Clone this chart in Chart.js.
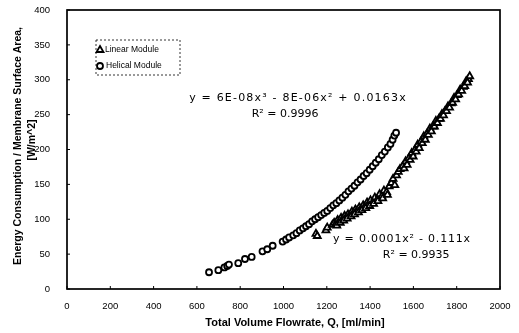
<!DOCTYPE html>
<html>
<head>
<meta charset="utf-8">
<script src="https://cdn.jsdelivr.net/npm/chart.js@4.4.1/dist/chart.umd.min.js"></script>
<style>
  html, body { margin: 0; padding: 0; background: #fff; }
  #wrap { width: 519px; height: 333px; }
</style>
</head>
<body>
<div id="wrap"><canvas id="flowChart" width="519" height="333"></canvas></div>
<script>
// linear module: total flowrate [ml/min] vs energy per membrane area [W/m^2]
const linearFlow = [1150, 1156, 1196, 1202, 1226, 1234, 1242, 1250, 1258, 1266, 1274, 1282, 1290, 1298,
  1308, 1316, 1324, 1332, 1340, 1350, 1358, 1368, 1376, 1386, 1394, 1402, 1412, 1422, 1432, 1444, 1454,
  1464, 1476, 1488, 1498, 1506, 1514, 1522, 1530, 1538, 1550, 1564, 1578, 1592, 1606, 1620, 1634, 1648,
  1662, 1676, 1690, 1704, 1718, 1732, 1746, 1760, 1774, 1788, 1802, 1816, 1830, 1844, 1854, 1860,
  1246, 1262, 1278, 1294, 1312, 1328, 1346, 1362, 1380, 1398, 1416, 1436, 1458, 1480,
  1557, 1571, 1585, 1599, 1613, 1627, 1641, 1655, 1669, 1683, 1697, 1711, 1725, 1739, 1753, 1767,
  1781, 1795, 1809, 1823, 1837, 1850]
const linearEnergy = [79, 76, 84, 88, 92, 95, 93, 99, 97, 102, 100, 105, 103, 107,
  106, 111, 109, 114, 112, 117, 115, 120, 118, 124, 121, 127, 124, 131, 128, 136, 133,
  141, 139, 147, 152, 158, 149, 163, 168, 172, 176, 183, 187, 195, 199, 207, 211, 219,
  222, 230, 233, 241, 244, 251, 255, 262, 266, 274, 278, 286, 290, 298, 301, 305,
  91, 95, 98, 101, 104, 107, 110, 113, 116, 119, 122, 126, 130, 135,
  173, 178, 185, 190, 197, 202, 209, 214, 221, 226, 233, 238, 244, 249, 255, 260,
  267, 272, 279, 284, 291, 296]

// helical module
const helicalFlow = [656, 699, 727, 740, 748, 791, 822, 853, 903, 925, 950, 996, 1012, 1026, 1045, 1060,
  1075, 1090, 1104, 1118, 1132, 1146, 1160, 1174, 1188, 1202, 1216, 1230, 1244, 1258, 1272, 1286, 1300,
  1314, 1328, 1342, 1356, 1370, 1384, 1398, 1412, 1426, 1440, 1454, 1468, 1482, 1494, 1504, 1512, 1520]
const helicalEnergy = [24, 27, 31, 33, 35, 37, 43, 46, 54, 57, 62, 68, 71, 74, 77, 80,
  84, 87, 90, 93, 97, 100, 103, 106, 109, 112, 116, 120, 123, 127, 131, 135, 140,
  144, 148, 153, 157, 162, 166, 171, 176, 181, 186, 192, 197, 203, 208, 214, 220, 224]

const xTicks = [0, 200, 400, 600, 800, 1000, 1200, 1400, 1600, 1800, 2000]
const yTicks = [0, 50, 100, 150, 200, 250, 300, 350, 400]

const seriesNames = ['Linear Module', 'Helical Module']
const fitHelical = ['y = 6E-08x³ - 8E-06x² + 0.0163x', 'R² = 0.9996']
const fitLinear = ['y = 0.0001x² - 0.111x', 'R² = 0.9935']
const xTitle = 'Total Volume Flowrate, Q, [ml/min]'
const yTitle = ['Energy Consumption / Membrane Surface Area,', '[W/m^2]']

const toPoints = (xs, ys) => xs.map((x, i) => ({ x: x, y: ys[i] }))

const triangleStyle = { pointStyle: 'triangle', radius: 4, rotation: 0, borderWidth: 1.8 }
const circleStyle = { pointStyle: 'circle', radius: 3, rotation: 0, borderWidth: 1.8 }

let text = (ctx, str, x, y, font, align, spacing) => {
  ctx.font = font
  ctx.textAlign = align
  ctx.textBaseline = 'middle'
  ctx.letterSpacing = spacing || '0px'
  ctx.fillText(str, x, y)
  ctx.letterSpacing = '0px'
}

// frame, inner tick marks, titles, fit labels and the dashed legend box
const decorations = {
  id: 'decorations',
  beforeDatasetsDraw(chart) {
    const { ctx, chartArea: a, scales: { x, y } } = chart
    ctx.save()
    ctx.strokeStyle = '#000'
    ctx.lineWidth = 1
    ctx.beginPath()
    xTicks.forEach(v => { const px = x.getPixelForValue(v); ctx.moveTo(px, a.bottom); ctx.lineTo(px, a.bottom - 3) })
    yTicks.forEach(v => { const py = y.getPixelForValue(v); ctx.moveTo(a.left, py); ctx.lineTo(a.left + 3, py) })
    ctx.stroke()
    ctx.lineWidth = 1.7
    ctx.strokeRect(a.left, a.top, a.right - a.left, a.bottom - a.top)
    ctx.restore()
  },
  afterDraw(chart) {
    const { ctx, chartArea: a, scales: { x, y } } = chart
    ctx.save()
    ctx.fillStyle = '#000'

    // axis titles
    text(ctx, xTitle, 295, 323, 'bold 11px "Liberation Sans"', 'center')
    ctx.save()
    ctx.translate(18, 146)
    ctx.rotate(-Math.PI / 2)
    text(ctx, yTitle[0], 0, 0, 'bold 10.5px "Liberation Sans"', 'center')
    ctx.restore()
    ctx.save()
    ctx.translate(32, 140)
    ctx.rotate(-Math.PI / 2)
    text(ctx, yTitle[1], 0, 0, 'bold 10.5px "Liberation Sans"', 'center')
    ctx.restore()

    // trendline equations
    const f = '11px "DejaVu Sans"'
    text(ctx, fitHelical[0], x.getPixelForValue(1067), y.getPixelForValue(274), f, 'center', '1.2px')
    text(ctx, fitHelical[1], x.getPixelForValue(1007), y.getPixelForValue(250), f, 'center')
    text(ctx, fitLinear[0], x.getPixelForValue(1547), y.getPixelForValue(72), f, 'center', '0.8px')
    text(ctx, fitLinear[1], x.getPixelForValue(1613), y.getPixelForValue(49), f, 'center')

    // legend
    const lx = a.left + 29, ly = a.top + 30
    ctx.strokeStyle = '#000'
    ctx.lineWidth = 0.8
    ctx.setLineDash([2, 2])
    ctx.strokeRect(lx, ly, 84, 35)
    ctx.setLineDash([])
    ctx.fillStyle = '#fff'
    ctx.lineWidth = triangleStyle.borderWidth
    Chart.helpers.drawPoint(ctx, triangleStyle, lx + 4, ly + 10)
    ctx.lineWidth = circleStyle.borderWidth
    Chart.helpers.drawPoint(ctx, circleStyle, lx + 4, ly + 26)
    ctx.fillStyle = '#000'
    text(ctx, seriesNames[0], lx + 9, ly + 10, '8.5px "Liberation Sans"', 'left')
    text(ctx, seriesNames[1], lx + 10, ly + 26, '8.5px "Liberation Sans"', 'left')
    ctx.restore()
  }
}

const tickFont = { family: '"Liberation Sans"', size: 9.5 }
// tick marks are kept but made invisible, so the gap to the labels does not pad the plot top
const hiddenGrid = (len) => ({ display: true, drawOnChartArea: false, drawTicks: true, tickLength: len, color: 'rgba(0,0,0,0)' })

const ctx = document.getElementById('flowChart')

const config = {
  type: 'scatter',
  data: {
    datasets: [{
      label: seriesNames[0],
      data: toPoints(linearFlow, linearEnergy),
      pointStyle: 'triangle',
      pointRadius: triangleStyle.radius,
      borderWidth: triangleStyle.borderWidth,
      borderColor: '#000',
      backgroundColor: '#fff'
    }, {
      label: seriesNames[1],
      data: toPoints(helicalFlow, helicalEnergy),
      pointStyle: 'circle',
      pointRadius: circleStyle.radius,
      borderWidth: circleStyle.borderWidth,
      borderColor: '#000',
      backgroundColor: '#fff'
    }]
  },
  options: {
    responsive: false,
    animation: false,
    layout: { padding: { left: 0, right: 19, top: 10, bottom: 0 } },
    plugins: { legend: { display: false }, tooltip: { enabled: false } },
    scales: {
      x: {
        type: 'linear', min: 0, max: 2000,
        afterBuildTicks: s => { s.ticks = xTicks.map(v => ({ value: v })) },
        afterFit: s => { s.height = 44 },
        grid: hiddenGrid(10),
        border: { display: false },
        ticks: { font: tickFont, color: '#000', padding: 2, maxRotation: 0, callback: v => String(v) }
      },
      y: {
        type: 'linear', min: 0, max: 400,
        afterBuildTicks: s => { s.ticks = yTicks.map(v => ({ value: v })) },
        afterFit: s => { s.width = 67 },
        grid: hiddenGrid(15),
        border: { display: false },
        ticks: { font: tickFont, color: '#000', padding: 2, callback: v => String(v) }
      }
    }
  },
  plugins: [decorations]
}

const chart = new Chart(ctx, config)
</script>
</body>
</html>
